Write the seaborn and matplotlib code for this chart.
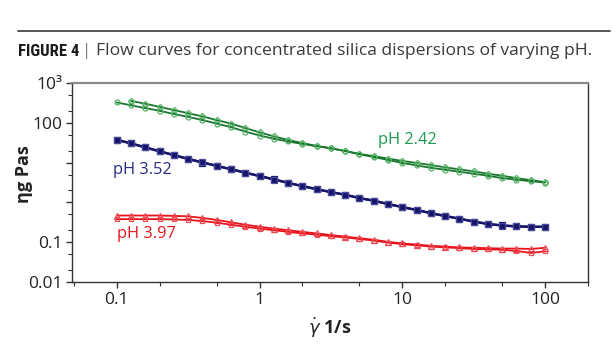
"""Flow curves for concentrated silica dispersions of varying pH (log-log)."""

import matplotlib

matplotlib.use("Agg")

import matplotlib.pyplot as plt
import matplotlib.ticker as mticker
import pandas as pd
import seaborn as sns
from matplotlib import font_manager

# ---------- data ----------

shear_rate = [
    0.1, 0.126, 0.158, 0.2, 0.251, 0.316, 0.398, 0.501, 0.631, 0.794,
    1.0, 1.26, 1.58, 2.0, 2.51, 3.16, 3.98, 5.01, 6.31, 7.94,
    10.0, 12.6, 15.8, 20.0, 25.1, 31.6, 39.8, 50.1, 63.1, 79.4, 100.0,
]

# pH 2.42 (green): sweep starting at 0.126 and sweep starting at 0.1
green_up = [
    355, 302, 251, 209, 174, 145, 117, 95.5, 74.1,
    57.5, 45.7, 37.2, 30.9, 26.3, 22.9, 19.5, 16.6, 14.5, 12.6,
    11.0, 9.77, 8.71, 7.59, 6.76, 6.03, 5.25, 4.68, 4.07, 3.63, 3.24,
]
green_down = [
    324, 275, 234, 200, 166, 141, 117, 95.5, 77.6, 60.3,
    47.9, 39.8, 33.9, 29.5, 25.7, 22.9, 19.5, 16.2, 13.8, 11.7,
    9.77, 8.51, 7.41, 6.61, 5.89, 5.25, 4.68, 4.07, 3.72, 3.39, 3.16,
]

# pH 3.52 (blue): two nearly coincident sweeps
blue_a = [
    37.6, 30.2, 24.0, 19.1, 15.5, 12.3, 10.0, 8.32, 6.76, 5.62,
    4.57, 3.80, 3.09, 2.57, 2.14, 1.82, 1.55, 1.29, 1.10, 0.912,
    0.759, 0.646, 0.537, 0.457, 0.389, 0.331, 0.288, 0.263, 0.251, 0.245, 0.245,
]
blue_b = [
    36.5, 30.6, 24.3, 19.4, 15.3, 12.5, 10.2, 8.20, 6.90, 5.55,
    4.62, 3.75, 3.13, 2.54, 2.17, 1.80, 1.57, 1.27, 1.11, 0.900,
    0.770, 0.640, 0.540, 0.450, 0.390, 0.330, 0.285, 0.262, 0.248, 0.240, 0.243,
]

# pH 3.97 (red)
red_up = [
    0.468, 0.468, 0.468, 0.468, 0.457, 0.447, 0.407, 0.363, 0.316, 0.275,
    0.245, 0.219, 0.200, 0.182, 0.166, 0.151, 0.138, 0.126, 0.115, 0.102,
    0.0933, 0.0871, 0.0813, 0.0776, 0.0741, 0.0724, 0.0708, 0.0692, 0.0692, 0.0676, 0.0724,
]
red_down = [
    0.380, 0.380, 0.380, 0.380, 0.372, 0.363, 0.339, 0.309, 0.275, 0.245,
    0.219, 0.200, 0.182, 0.166, 0.155, 0.141, 0.132, 0.120, 0.110, 0.0977,
    0.0891, 0.0832, 0.0776, 0.0741, 0.0708, 0.0676, 0.0661, 0.0646, 0.0603, 0.0537, 0.0589,
]

x_ticks = [0.1, 1, 10, 100]
x_tick_labels = ["0.1", "1", "10", "100"]
y_ticks = [0.01, 0.1, 1, 10, 100, 1000]
y_tick_labels = ["0.01", "0.1", "", "", "100", "10³"]

GREEN_LINE = "#1b7430"
GREEN_MARK = "#55b565"
GREEN_TEXT = "#1f9a52"
BLUE_LINE = "#15156a"
BLUE_TEXT = "#2a2a86"
RED_LINE = "#e8141c"
RED_MARK = "#f04a55"

# ---------- plot ----------

sns.set_theme(style="white")
plt.rcParams["font.family"] = ["Open Sans", "DejaVu Sans"]

# condensed bold face for the "FIGURE 4" tag, if one is installed
installed = {f.name for f in font_manager.fontManager.ttflist}
narrow = [n for n in ("Roboto Condensed", "Liberation Sans Narrow",
                      "DejaVu Sans Condensed") if n in installed]
if narrow:
    tag_family, tag_size = narrow[0], 12
else:
    tag_family, tag_size = "Liberation Sans", 11

fig = plt.figure(figsize=(6.15, 3.5), dpi=100)
ax = fig.add_axes([0.1171, 0.1943, 0.8390, 0.5686])

curves = [
    (shear_rate[1:], green_up, GREEN_LINE, GREEN_MARK, "D", "none", 3.2, 1.3),
    (shear_rate, green_down, GREEN_LINE, GREEN_MARK, "o", "none", 3.6, 1.3),
    (shear_rate, blue_a, BLUE_LINE, BLUE_LINE, "s", BLUE_LINE, 3.8, 1.8),
    (shear_rate, blue_b, BLUE_LINE, "#4a4a9a", "s", "none", 3.8, 1.5),
    (shear_rate, red_up, RED_LINE, RED_MARK, "^", "none", 4.2, 1.3),
    (shear_rate, red_down, RED_LINE, RED_MARK, "s", "none", 3.4, 1.3),
]
for xs, ys, lc, mc, mk, mfc, ms, lw in curves:
    df = pd.DataFrame({"rate": xs, "eta": ys})
    sns.lineplot(
        data=df, x="rate", y="eta", ax=ax, color=lc, linewidth=lw,
        marker=mk, markersize=ms, markeredgecolor=mc, markerfacecolor=mfc,
        markeredgewidth=0.9, estimator=None, sort=False,
    )

ax.set_xscale("log")
ax.set_yscale("log")
ax.set_xlim(0.0486, 200)
ax.set_ylim(0.01, 1000)

ax.xaxis.set_major_locator(mticker.FixedLocator(x_ticks))
ax.xaxis.set_major_formatter(mticker.FixedFormatter(x_tick_labels))
ax.xaxis.set_minor_locator(mticker.LogLocator(base=10, subs=(2.0, 5.0)))
ax.xaxis.set_minor_formatter(mticker.NullFormatter())
ax.yaxis.set_major_locator(mticker.FixedLocator(y_ticks))
ax.yaxis.set_major_formatter(mticker.FixedFormatter(y_tick_labels))
ax.yaxis.set_minor_locator(mticker.LogLocator(base=10, subs=(2.0, 5.0)))
ax.yaxis.set_minor_formatter(mticker.NullFormatter())

ax.tick_params(axis="both", which="major", direction="out", length=4, width=1,
               color="#333333", labelsize=12.5, labelcolor="#222222", pad=3,
               bottom=True, left=True)
ax.tick_params(axis="both", which="minor", direction="out", length=3, width=0.8,
               color="#333333", bottom=True, left=True)

for side in ("left", "bottom", "right"):
    ax.spines[side].set_color("#333333")
    ax.spines[side].set_linewidth(1.0)
ax.spines["top"].set_color("#8a8a8a")
ax.spines["top"].set_linewidth(1.6)

ax.set_xlabel(r"$\dot{\gamma}$ 1/s", fontsize=13, fontweight="bold",
              color="#222222")
ax.set_ylabel("ηg Pas", fontsize=13, fontweight="bold", color="#222222")
ax.xaxis.set_label_coords(0.5, -0.17)
ax.yaxis.set_label_coords(-0.075, 0.54)

# series labels
ax.text(6.76, 37, "pH 2.42", color=GREEN_TEXT, fontsize=11.8, va="center", ha="left")
ax.text(0.094, 6.5, "pH 3.52", color=BLUE_TEXT, fontsize=11.8, va="center", ha="left")
ax.text(0.1, 0.16, "pH 3.97", color=RED_LINE, fontsize=11.8, va="center", ha="left")

# figure caption header
fig.add_artist(plt.Line2D([18 / 615, 610 / 615], [1 - 31 / 350, 1 - 31 / 350],
                          color="#555555", linewidth=1.4))
fig.text(18 / 615, 1 - 51 / 350, "FIGURE 4", fontsize=tag_size, fontweight="bold",
         family=tag_family, color="#1a1a1a", va="center", ha="left")
fig.text(82 / 615, 1 - 51 / 350, "|", fontsize=12, color="#777777",
         va="center", ha="left")
fig.text(96 / 615, 1 - 51 / 350,
         "Flow curves for concentrated silica dispersions of varying pH.",
         fontsize=12.6, color="#3a3a3a", va="center", ha="left")

fig.savefig("out.png", dpi=100, facecolor="white")
